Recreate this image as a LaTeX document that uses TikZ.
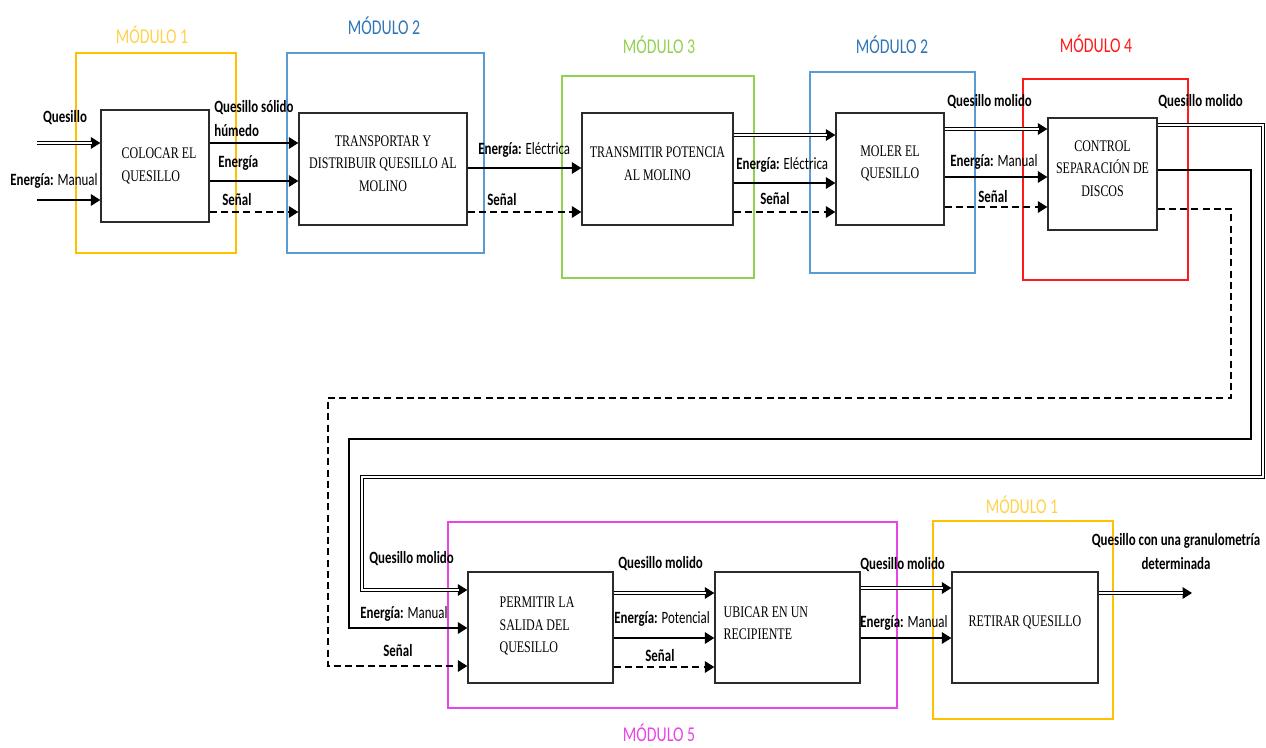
\documentclass[tikz,border=0pt]{standalone}
\usepackage{fontspec}
\usetikzlibrary{arrows.meta,fit}
\newfontfamily\lblfont[FakeStretch=0.75]{Carlito}
\newfontfamily\blkfont[FakeStretch=0.74]{Liberation Serif}
\definecolor{modyellow}{HTML}{FFC000}
\definecolor{modyellowtxt}{HTML}{FFD24D}
\definecolor{modblue}{HTML}{5B9BD5}
\definecolor{modbluetxt}{HTML}{2E75B6}
\definecolor{modgreen}{HTML}{92D050}
\definecolor{modred}{HTML}{FF1A1A}
\definecolor{modpink}{HTML}{E844E8}
\definecolor{boxline}{HTML}{2B2B2B}

\tikzset{
  module/.style={draw=#1, line width=0.9pt},
  modlabel/.style={text=#1, font=\lblfont\fontsize{12}{14}\selectfont, inner sep=0pt},
  blkfont/.style={font=\blkfont\fontsize{9.2}{12.8}\selectfont},
  blk/.style={draw=boxline, line width=0.8pt, inner sep=0pt, align=center, blkfont},
  blktext/.style={blkfont, inner sep=0pt, align=left, anchor=west},
  lbl/.style={font=\lblfont\fontsize{9.8}{13.5}\selectfont, inner sep=0pt,
    text height=0.7em, text depth=0.2em},
  lblml/.style={font=\lblfont\fontsize{9.8}{13.5}\selectfont, inner sep=0pt},
  tip/.style={-{Triangle[length=1.9mm,width=2.4mm,line width=0pt]}},
  flow/.style={draw=black, line width=0.85pt, tip},
  % double line: thick black stroke with a white core drawn on top
  dflow/.style={draw=black, line width=2.7pt, tip,
    postaction={draw=white, line width=1.2pt, shorten >=1.75mm, -}},
  sig/.style={flow, dash pattern=on 4pt off 2.4pt},
}

\begin{document}
\begin{tikzpicture}[x=0.02cm, y=-0.02cm]
\useasboundingbox (0,0) rectangle (1266,747);

% module frames
\draw[module=modyellow] (76,53) rectangle (236,253);
\draw[module=modblue]   (287,53) rectangle (484,253);
\draw[module=modgreen]  (562,76) rectangle (754,278);
\draw[module=modblue]   (810,72) rectangle (975,273);
\draw[module=modred]    (1023,79) rectangle (1188,280);
\draw[module=modpink]   (448,522) rectangle (897,708);
\draw[module=modyellow] (933,521) rectangle (1113,719);

\node[modlabel=modyellowtxt] (m1a) at (152,35)  {MÓDULO 1};
\node[modlabel=modbluetxt]   (m2a) at (384,26)  {MÓDULO 2};
\node[modlabel=modgreen]     (m3)  at (659,45)  {MÓDULO 3};
\node[modlabel=modbluetxt]   (m2b) at (892,45)  {MÓDULO 2};
\node[modlabel=modred]       (m4)  at (1096,44) {MÓDULO 4};
\node[modlabel=modpink]      (m5)  at (659,733) {MÓDULO 5};
\node[modlabel=modyellowtxt] (m1b) at (1022,505) {MÓDULO 1};

% function blocks
\node[blk, fit={(101,110) (209,222)},
  label={[blktext, xshift=0.42cm]west:{COLOCAR EL\\QUESILLO}}] (colocar) {};
\node[blk, fit={(299,113) (467,225)}] (transp) {TRANSPORTAR Y\\DISTRIBUIR QUESILLO AL\\MOLINO};
\node[blk, fit={(582,113) (733,225)}] (transm) {TRANSMITIR POTENCIA\\AL MOLINO};
\node[blk, fit={(836,113) (944,225)}] (moler) {MOLER EL\\QUESILLO};
\node[blk, fit={(1048,118) (1157,230)}] (control) {CONTROL\\SEPARACIÓN DE\\DISCOS};
\node[blk, fit={(468,572) (613,683)},
  label={[blktext, xshift=0.64cm, yshift=0.03cm]west:{PERMITIR LA\\SALIDA DEL\\QUESILLO}}] (permitir) {};
\node[blk, fit={(715,572) (860,683)},
  label={[blktext, xshift=0.18cm, yshift=0.09cm]west:{UBICAR EN UN\\RECIPIENTE}}] (ubicar) {};
\node[blk, fit={(952,572) (1098,683)}] (retirar) {RETIRAR QUESILLO};

% free ends
\coordinate (inQ) at (37,143);
\coordinate (inE) at (37,200);
\coordinate (outQ) at (1192,593);

% row 1 flows
\draw[dflow] (inQ) -- (colocar.west |- inQ);
\draw[flow]  (inE) -- (colocar.west |- inE);

\draw[flow] (colocar.east |- 0,143) -- (transp.west |- 0,143);
\draw[flow] (colocar.east |- 0,181) -- (transp.west |- 0,181);
\draw[sig]  (colocar.east |- 0,212) -- (transp.west |- 0,212);

\draw[flow] (transp.east |- 0,168) -- (transm.west |- 0,168);
\draw[sig]  (transp.east |- 0,212) -- (transm.west |- 0,212);

\draw[dflow] (transm.east |- 0,135) -- (moler.west |- 0,135);
\draw[flow]  (transm.east |- 0,183) -- (moler.west |- 0,183);
\draw[sig]   (transm.east |- 0,212) -- (moler.west |- 0,212);

\draw[dflow] (moler.east |- 0,129) -- (control.west |- 0,129);
\draw[flow]  (moler.east |- 0,177) -- (control.west |- 0,177);
\draw[sig]   (moler.east |- 0,207) -- (control.west |- 0,207);

% return paths to the second row
\draw[dflow] (control.east |- 0,125) -- (1263,125) -- (1263,477) -- (362,477)
  -- (362,590) -- (permitir.west |- 0,590);
\draw[flow]  (control.east |- 0,170) -- (1251,170) -- (1251,439) -- (349,439)
  -- (349,628) -- (permitir.west |- 0,628);
\draw[sig]   (control.east |- 0,209) -- (1231,209) -- (1231,398) -- (328,398)
  -- (328,666) -- (permitir.west |- 0,666);

% row 2 flows
\draw[dflow] (permitir.east |- 0,593) -- (ubicar.west |- 0,593);
\draw[flow]  (permitir.east |- 0,638) -- (ubicar.west |- 0,638);
\draw[sig]   (permitir.east |- 0,667) -- (ubicar.west |- 0,667);

\draw[dflow] (ubicar.east |- 0,588) -- (retirar.west |- 0,588);
\draw[flow]  (ubicar.east |- 0,638) -- (retirar.west |- 0,638);

\draw[dflow] (retirar.east |- outQ) -- (outQ);

% flow labels, row 1
\node[lbl] (lq0) at (65,118) {\bfseries Quesillo};
\node[lbl, anchor=west] (le0) at (10,181) {\bfseries Energía: \mdseries Manual};
\node[lblml, align=left, anchor=north west] (lq1) at (214,100) {\bfseries Quesillo sólido\\\bfseries húmedo};
\node[lbl, anchor=west] (le1) at (218,163) {\bfseries Energía};
\node[lbl, anchor=west] (ls1) at (222,201) {\bfseries Señal};
\node[lbl, anchor=west] (le2) at (478,150) {\bfseries Energía: \mdseries Eléctrica};
\node[lbl, anchor=west] (ls2) at (487,201) {\bfseries Señal};
\node[lbl, anchor=west] (le3) at (736,165) {\bfseries Energía: \mdseries Eléctrica};
\node[lbl, anchor=west] (ls3) at (760,200) {\bfseries Señal};
\node[lbl, anchor=west] (lq4) at (947,102) {\bfseries Quesillo molido};
\node[lbl, anchor=west] (le4) at (950,162) {\bfseries Energía: \mdseries Manual};
\node[lbl, anchor=west] (ls4) at (978,198) {\bfseries Señal};
\node[lbl, anchor=west] (lq5) at (1158,102) {\bfseries Quesillo molido};

% flow labels, row 2
\node[lbl, anchor=west] (lq6) at (369,559) {\bfseries Quesillo molido};
\node[lbl, anchor=west] (le6) at (360,614) {\bfseries Energía: \mdseries Manual};
\node[lbl, anchor=west] (ls6) at (383,652) {\bfseries Señal};
\node[lbl, anchor=west] (lq7) at (618,564) {\bfseries Quesillo molido};
\node[lbl, anchor=west] (le7) at (614,619) {\bfseries Energía: \mdseries Potencial};
\node[lbl, anchor=west] (ls7) at (645,657) {\bfseries Señal};
\node[lbl, anchor=west] (lq8) at (860,565) {\bfseries Quesillo molido};
\node[lbl, anchor=west] (le8) at (860,623) {\bfseries Energía: \mdseries Manual};
\node[lblml, align=center, anchor=north] (lout) at (1176,533)
  {\bfseries Quesillo con una granulometría\\\bfseries determinada};
\end{tikzpicture}
\end{document}
